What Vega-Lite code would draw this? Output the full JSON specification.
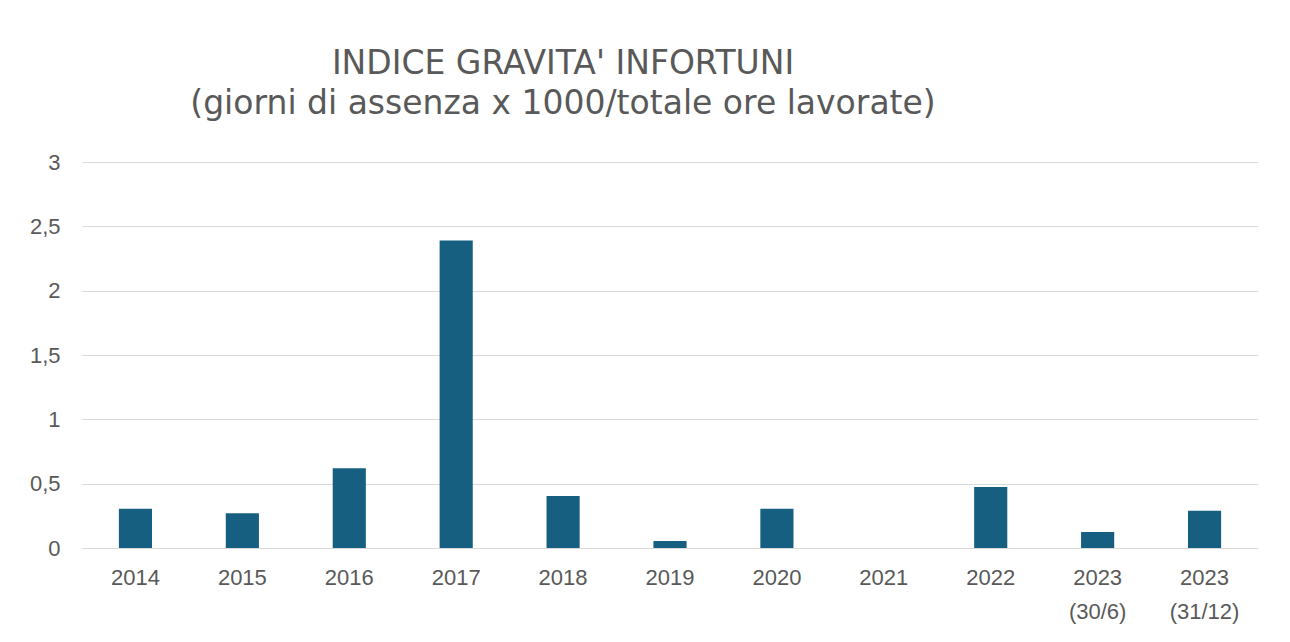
{
  "$schema": "https://vega.github.io/schema/vega-lite/v6.json",
  "autosize": "none",
  "width": 1176,
  "height": 386,
  "padding": {"left": 82, "top": 162, "right": 32, "bottom": 94},
  "background": "white",
  "title": {
    "text": ["INDICE GRAVITA' INFORTUNI", "(giorni di assenza x 1000/totale ore lavorate)"],
    "anchor": "middle",
    "dx": -107,
    "offset": 30,
    "font": "DejaVu Sans",
    "fontSize": 33,
    "fontWeight": "normal",
    "color": "#595959",
    "lineHeight": 40
  },
  "data": {
    "values": [
      {"periodo": "2014", "indice": 0.305},
      {"periodo": "2015", "indice": 0.27},
      {"periodo": "2016", "indice": 0.62},
      {"periodo": "2017", "indice": 2.39},
      {"periodo": "2018", "indice": 0.405},
      {"periodo": "2019", "indice": 0.055},
      {"periodo": "2020", "indice": 0.305},
      {"periodo": "2021", "indice": 0},
      {"periodo": "2022", "indice": 0.475},
      {"periodo": "2023 (30/6)", "indice": 0.125},
      {"periodo": "2023 (31/12)", "indice": 0.29}
    ]
  },
  "mark": {"type": "bar", "color": "#175f81"},
  "encoding": {
    "x": {
      "field": "periodo",
      "type": "nominal",
      "sort": null,
      "scale": {"paddingInner": 0.69, "paddingOuter": 0.345},
      "axis": {
        "title": null,
        "labelAngle": 0,
        "labelExpr": "split(datum.label, ' ')",
        "labelLineHeight": 34,
        "labelPadding": 19,
        "labelFont": "Liberation Sans",
        "labelFontSize": 22,
        "labelColor": "#595959",
        "domain": false,
        "ticks": false,
        "grid": false
      }
    },
    "y": {
      "field": "indice",
      "type": "quantitative",
      "scale": {"domain": [0, 3]},
      "axis": {
        "title": null,
        "values": [0, 0.5, 1, 1.5, 2, 2.5, 3],
        "labelExpr": "replace(format(datum.value, '~g'), '.', ',')",
        "labelPadding": 22,
        "labelFont": "Liberation Sans",
        "labelFontSize": 22,
        "labelColor": "#595959",
        "domain": false,
        "ticks": false,
        "grid": true,
        "gridColor": "#d9d9d9",
        "gridWidth": 1.2
      }
    }
  },
  "config": {"view": {"stroke": null}}
}
